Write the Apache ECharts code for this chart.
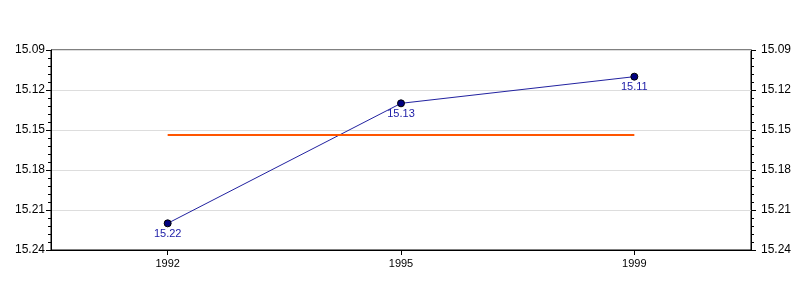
<!DOCTYPE html>
<html>
<head>
<meta charset="utf-8">
<style>html,body{margin:0;padding:0;background:#fff}#c{width:800px;height:300px}</style>
<script src="https://cdn.jsdelivr.net/npm/echarts@6/dist/echarts.min.js"></script>
</head>
<body>
<div id="c"></div>
<script>
var categories = ['1992', '1995', '1999'];
var values = [15.22, 15.13, 15.11];
var yTicks = [15.09, 15.12, 15.15, 15.18, 15.21, 15.24];

var avg = values.reduce(function (a, b) { return a + b; }, 0) / values.length;
var font = "'Liberation Sans', Arial, sans-serif";

function yAxisDef(pos, margin) {
  return {
    type: 'value',
    position: pos,
    inverse: true,
    min: yTicks[0],
    max: yTicks[yTicks.length - 1],
    interval: 0.03,
    axisLine: { show: true, lineStyle: { color: '#000', width: 1 } },
    axisTick: { show: true, length: 5, lineStyle: { color: '#000' } },
    minorTick: { show: true, splitNumber: 5, length: 3, lineStyle: { color: '#000' } },
    splitLine: { show: pos === 'left', lineStyle: { color: '#dddddd', width: 1 } },
    axisLabel: {
      color: '#000', fontFamily: font, fontSize: 12, margin: margin,
      formatter: function (v) { return v.toFixed(2); }
    }
  };
}

var chart = echarts.init(document.getElementById('c'), null, { renderer: 'canvas' });
chart.setOption({
  animation: false,
  backgroundColor: '#fff',
  grid: { left: 51, right: 49, top: 50, bottom: 50, show: true, borderColor: '#000', borderWidth: 1, backgroundColor: 'transparent' },
  xAxis: {
    type: 'category',
    data: categories,
    boundaryGap: true,
    axisLine: { show: true, lineStyle: { color: '#000', width: 1 } },
    axisTick: { show: true, alignWithLabel: true, length: 5, lineStyle: { color: '#000' } },
    axisLabel: { color: '#000', fontFamily: font, fontSize: 11, margin: 8 },
    splitLine: { show: false }
  },
  yAxis: [yAxisDef('left', 6), yAxisDef('right', 10)],
  series: [{
    type: 'line',
    data: values,
    yAxisIndex: 0,
    symbol: 'circle',
    symbolSize: 7,
    itemStyle: { color: '#000080', borderColor: '#000', borderWidth: 1 },
    lineStyle: { color: '#2222a0', width: 1 },
    label: {
      show: true, position: 'bottom', distance: 1,
      color: '#2020a8', fontFamily: font, fontSize: 11,
      formatter: function (p) { return p.value.toFixed(2); }
    },
    markLine: {
      silent: true,
      symbol: ['none', 'none'],
      label: { show: false },
      lineStyle: { color: '#ff5500', width: 2, type: 'solid' },
      data: [[
        { coord: [categories[0], avg] },
        { coord: [categories[categories.length - 1], avg] }
      ]]
    }
  }]
});
</script>
</body>
</html>
